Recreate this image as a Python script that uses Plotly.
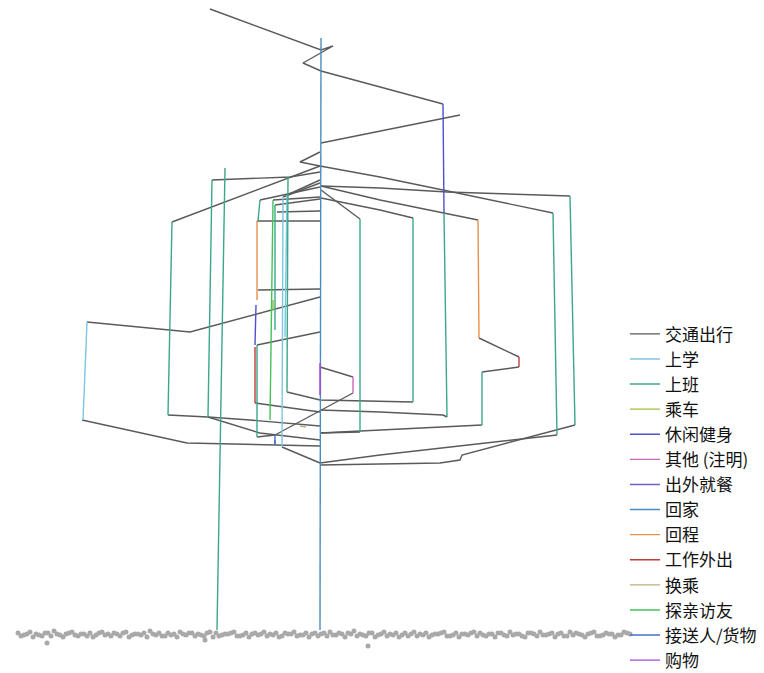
import plotly.graph_objects as go

# ---------------- data ----------------
CATEGORIES = ["交通出行", "上学", "上班", "乘车", "休闲健身", "其他 (注明)", "出外就餐",
              "回家", "回程", "工作外出", "换乘", "探亲访友", "接送人/货物", "购物"]
COLORS = ["#5a5a5a", "#7cc6e0", "#3aa88a", "#9cc040", "#5050cc", "#cc66c0", "#7462c8",
          "#4a8cc0", "#e8904a", "#c03a3a", "#bdb07e", "#44c257", "#4470c0", "#a846dc"]

# polylines per activity: (position, time)
TRAVEL = [
    [(210, 9), (321, 50), (333, 46), (303, 63), (321, 71), (443, 104)],
    [(321, 143), (380, 131), (460, 115)],
    [(320, 152), (300, 162), (320, 166), (380, 177), (443, 190), (553, 213)],
    [(320, 166), (172, 222)],
    [(320, 172), (290, 177), (212, 180)],
    [(321, 186), (380, 188), (447, 192), (570, 196)],
    [(321, 186), (380, 200), (478, 220)],
    [(321, 198), (380, 210), (413, 218)],
    [(321, 190), (360, 219)],
    [(320, 187), (260, 200)],
    [(320, 197), (273, 200)],
    [(320, 199), (275, 205)],
    [(320, 211), (277, 212)],
    [(320, 180), (287, 195)],
    [(320, 183), (283, 197)],
    [(257, 221), (320, 221)],
    [(258, 290), (320, 289)],
    [(320, 297), (190, 332), (87, 322)],
    [(82, 420), (187, 443), (320, 446)],
    [(168, 415), (208, 417), (260, 433), (320, 440)],
    [(208, 417), (250, 420), (320, 426)],
    [(257, 345), (320, 332)],
    [(255, 403), (320, 412)],
    [(257, 437), (275, 435)],
    [(320, 367), (353, 377)],
    [(353, 393), (275, 435)],
    [(282, 447), (320, 463)],
    [(287, 392), (320, 400), (413, 402)],
    [(320, 410), (380, 412), (443, 415), (447, 417)],
    [(360, 432), (320, 433)],
    [(320, 433), (380, 430), (482, 425)],
    [(320, 463), (380, 455), (557, 435)],
    [(320, 465), (440, 463), (460, 460), (462, 455), (575, 425)],
    [(479, 338), (519, 357)],
    [(519, 367), (482, 372)],
]
SCHOOL = [
    [(87, 322), (83, 420)],
    [(283, 197), (282, 447)],
    [(287, 195), (285, 337)],
]
WORK = [
    [(444, 213), (447, 417)],
    [(553, 213), (557, 435)],
    [(570, 196), (575, 425)],
    [(482, 372), (482, 425)],
    [(413, 218), (413, 402)],
    [(360, 219), (360, 432)],
    [(172, 222), (168, 415)],
    [(212, 180), (208, 417)],
    [(225, 168), (217, 630)],
    [(288, 177), (287, 392)],
    [(260, 200), (258, 221)],
    [(275, 205), (275, 330)],
    [(257, 345), (257, 437)],
]
RIDE = [[(273, 300), (273, 310)]]
LEISURE = [
    [(443, 104), (444, 213)],
    [(256, 305), (255, 345)],
]
OTHER = [[(353, 377), (353, 393)]]
DINING = [[(275, 440), (275, 445)]]
HOME = [[(321, 38), (320, 630)]]
RETURN = [
    [(478, 220), (479, 338)],
    [(257, 221), (257, 300)],
]
WORK_OUT = [
    [(519, 357), (519, 367)],
    [(255, 347), (255, 403)],
]
TRANSFER = [[(300, 426), (306, 427)]]
VISIT = [[(273, 200), (270, 420)]]
PICKUP = [[(275, 435), (275, 445)]]
SHOPPING = [[(320, 363), (320, 395)]]

SEGMENTS = [TRAVEL, SCHOOL, WORK, RIDE, LEISURE, OTHER, DINING,
            HOME, RETURN, WORK_OUT, TRANSFER, VISIT, PICKUP, SHOPPING]

# ground points (base map), two staggered rows
GROUND_X = [18, 24, 30, 36, 42, 48, 54, 60, 66, 72, 78, 84, 90, 96, 102, 108, 114, 120, 126, 132,
            138, 144, 150, 156, 162, 168, 174, 180, 186, 192, 198, 204, 210, 216, 222, 228, 234, 240,
            246, 252, 258, 264, 270, 276, 282, 288, 294, 300, 306, 312, 318, 324, 330, 336, 342, 348,
            354, 360, 366, 372, 378, 384, 390, 396, 402, 408, 414, 420, 426, 432, 438, 444, 450, 456,
            462, 468, 474, 480, 486, 492, 498, 504, 510, 516, 522, 528, 534, 540, 546, 552, 558, 564,
            570, 576, 582, 588, 594, 600, 606, 612, 618, 624, 630, 47, 205, 368]
GROUND_Y = [633, 635, 632, 634, 636, 633, 631, 635, 634, 632, 636, 634, 633, 635, 632, 634, 633, 636, 632, 635,
            634, 633, 631, 635, 636, 633, 634, 632, 635, 633, 634, 636, 632, 633, 635, 634, 632, 636, 633, 634,
            635, 632, 634, 633, 636, 634, 632, 635, 633, 634, 636, 633, 632, 635, 634, 633, 631, 634, 636, 633,
            635, 632, 634, 633, 635, 636, 632, 634, 633, 635, 634, 632, 636, 633, 634, 635, 632, 633, 636, 634,
            633, 635, 632, 634, 636, 633, 634, 632, 635, 633, 634, 636, 632, 633, 635, 634, 632, 636, 633, 634,
            635, 632, 634, 643, 640, 646]
GROUND2_X = [21, 27, 33, 39, 45, 51, 57, 63, 69, 75, 81, 87, 93, 99, 105, 111, 117, 123, 129, 135,
             141, 147, 153, 159, 165, 171, 177, 183, 189, 195, 201, 207, 213, 219, 225, 231, 237, 243,
             249, 255, 261, 267, 273, 279, 285, 291, 297, 303, 309, 315, 321, 327, 333, 339, 345, 351,
             357, 363, 369, 375, 381, 387, 393, 399, 405, 411, 417, 423, 429, 435, 441, 447, 453, 459,
             465, 471, 477, 483, 489, 495, 501, 507, 513, 519, 525, 531, 537, 543, 549, 555, 561, 567,
             573, 579, 585, 591, 597, 603, 609, 615, 621, 627]
GROUND2_Y = [636, 634, 637, 635, 633, 636, 634, 637, 633, 635, 634, 636, 637, 633, 635, 636, 634, 633, 637, 634,
             635, 637, 634, 633, 636, 635, 637, 634, 633, 636, 635, 633, 637, 636, 634, 633, 636, 635, 637, 633,
             634, 636, 635, 637, 633, 634, 636, 635, 637, 633, 634, 636, 635, 633, 637, 634, 636, 635, 633, 637,
             634, 636, 635, 637, 633, 634, 636, 635, 637, 634, 633, 636, 635, 637, 634, 633, 636, 635, 634, 637,
             633, 636, 635, 634, 637, 633, 636, 635, 634, 637, 633, 636, 635, 634, 637, 633, 636, 635, 634, 637,
             635, 633]

# ---------------- figure ----------------
fig = go.Figure()
for gx, gy in ((GROUND_X, GROUND_Y), (GROUND2_X, GROUND2_Y)):
    fig.add_trace(go.Scatter(x=gx, y=gy, mode="markers",
                             marker=dict(size=5, color="#a9a9a9", line=dict(width=0)),
                             showlegend=False, hoverinfo="skip"))

for name, color, segs in zip(CATEGORIES, COLORS, SEGMENTS):
    xs, ys = [], []
    for poly in segs:
        for px, py in poly:
            xs.append(px)
            ys.append(py)
        xs.append(None)
        ys.append(None)
    fig.add_trace(go.Scatter(x=xs, y=ys, mode="lines", name=name,
                             line=dict(color=color, width=1.4)))

fig.update_layout(
    width=764, height=673,
    margin=dict(l=0, r=0, t=0, b=0, autoexpand=False),
    paper_bgcolor="white", plot_bgcolor="white",
    xaxis=dict(range=[0, 764], visible=False, fixedrange=True),
    yaxis=dict(range=[673, 0], visible=False, fixedrange=True),
    legend=dict(x=0.818, y=0.53, xanchor="left", yanchor="top",
                font=dict(family="Noto Sans CJK SC", size=17, color="#111"),
                bgcolor="rgba(0,0,0,0)", borderwidth=0),
    showlegend=True,
)

fig.write_html("out.html", config={"displayModeBar": False},
               post_script="document.body.style.margin='0';document.body.style.overflow='hidden';")
